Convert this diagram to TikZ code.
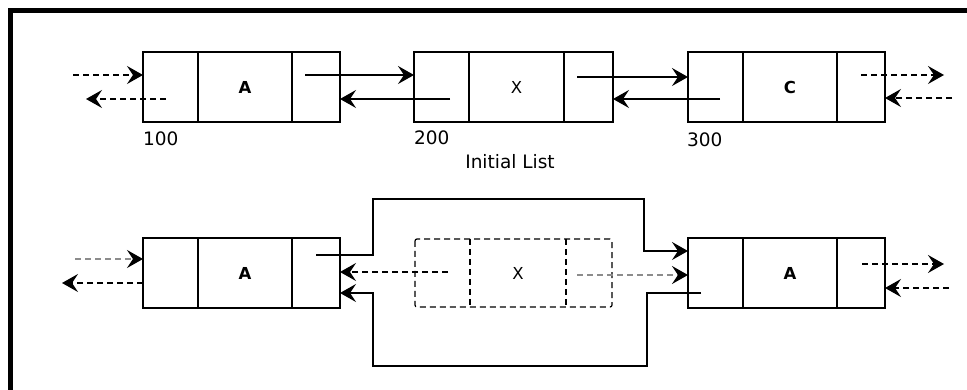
\documentclass[tikz,border=0pt]{standalone}
\usepackage{fontspec}
\setmainfont{DejaVu Sans}
\usetikzlibrary{arrows.meta,calc}
\begin{document}
\begin{tikzpicture}[x=1pt,y=-1pt,
  cell/.style={draw,line width=1.2pt,minimum height=70pt,inner sep=0pt,outer sep=0pt,anchor=west,
    font=\fontsize{16.5}{18}\selectfont},
  dashline/.style={line width=1.2pt,dash pattern=on 6pt off 4pt},
  tip/.style={-{Stealth[length=16pt,width=18pt,inset=6pt,black]}},
  link/.style={line width=1.5pt,tip},
  dlink/.style={link,dash pattern=on 6pt off 4pt},
  glink/.style={dlink,draw=black!45},
  lbl/.style={font=\fontsize{18.5}{20}\selectfont,inner sep=0pt},
  wire/.style={line width=1.5pt}]
\useasboundingbox (0,0) rectangle (967,390);
\clip (0,0) rectangle (967,390);
\draw[line width=5pt] (10.5,400) -- (10.5,10.5) -- (990,10.5);

% ---------- top row ----------
\node[cell,minimum width=55pt] (a1l) at (143,87) {};
\node[cell,minimum width=94pt] (a1m) at (a1l.east) {\textbf{A}};
\node[cell,minimum width=48pt] (a1r) at (a1m.east) {};
\node[cell,minimum width=55pt] (b1l) at (414,87) {};
\node[cell,minimum width=95pt] (b1m) at (b1l.east) {X};
\node[cell,minimum width=49pt] (b1r) at (b1m.east) {};
\node[cell,minimum width=55pt] (c1l) at (688,87) {};
\node[cell,minimum width=94pt] (c1m) at (c1l.east) {\textbf{C}};
\node[cell,minimum width=48pt] (c1r) at (c1m.east) {};

\node[lbl,anchor=west] (l100) at (143,139) {100};
\node[lbl,anchor=west] (l200) at (414,138) {200};
\node[lbl,anchor=west] (l300) at (687,140) {300};
\node[lbl] (init) at (510,162) {Initial List};

\coordinate (p1) at (73,75);
\coordinate (p2s) at (166,99);
\coordinate (p2e) at (86,99);
\coordinate (p3) at (305,75);
\coordinate (p4) at (450,99);
\coordinate (p5) at (577,77);
\coordinate (p6) at (720,99);
\coordinate (p7s) at (861,75);
\coordinate (p7e) at (944,75);
\coordinate (p8) at (952,98);

\draw[dlink] (p1) -- (a1l.west |- p1);
\draw[dlink] (p2s) -- (p2e);
\draw[link] (p3) -- (b1l.west |- p3);
\draw[link] (p4) -- (a1r.east |- p4);
\draw[link] (p5) -- (c1l.west |- p5);
\draw[link] (p6) -- (b1r.east |- p6);
\draw[dlink] (p7s) -- (p7e);
\draw[dlink] (p8) -- (c1r.east |- p8);

% ---------- bottom row ----------
\node[cell,minimum width=55pt] (d1l) at (143,273) {};
\node[cell,minimum width=94pt] (d1m) at (d1l.east) {\textbf{A}};
\node[cell,minimum width=48pt] (d1r) at (d1m.east) {};

\node[cell,draw=none,minimum width=197pt,minimum height=68pt] (xbox) at (415,273) {};
\draw[dashline,rounded corners=2pt] (xbox.north west) rectangle (xbox.south east);
\coordinate (xd1) at (470,273);
\coordinate (xd2) at (566,273);
\draw[dashline] (xd1 |- xbox.north) -- (xd1 |- xbox.south);
\draw[dashline] (xd2 |- xbox.north) -- (xd2 |- xbox.south);
\node[font=\fontsize{16.5}{18}\selectfont] (xlab) at (518,273) {X};

\node[cell,minimum width=55pt] (e1l) at (688,273) {};
\node[cell,minimum width=94pt] (e1m) at (e1l.east) {\textbf{A}};
\node[cell,minimum width=48pt] (e1r) at (e1m.east) {};

\coordinate (q1) at (75,259);
\coordinate (q2) at (62,283);
\coordinate (q3) at (316,255);
\coordinate (q4) at (448,272);
\coordinate (q5) at (701,293);
\coordinate (q6) at (577,275);
\coordinate (q7s) at (862,264);
\coordinate (q7e) at (944,264);
\coordinate (q8) at (949,288);

\draw[glink] (q1) -- (d1l.west |- q1);
\draw[dlink] (d1l.west |- q2) -- (q2);
\draw[wire,tip] (q3) -- (373,255) -- (373,199) -- (644,199) -- (644,251) -- (e1l.west |- 0,251);
\draw[dlink] (q4) -- (d1r.east |- q4);
\draw[wire,tip] (q5) -- (647,293) -- (647,366) -- (373,366) -- (373,293) -- (d1r.east |- q5);
\draw[glink] (q6) -- (e1l.west |- q6);
\draw[dlink] (q7s) -- (q7e);
\draw[dlink] (q8) -- (e1r.east |- q8);
\end{tikzpicture}
\end{document}
